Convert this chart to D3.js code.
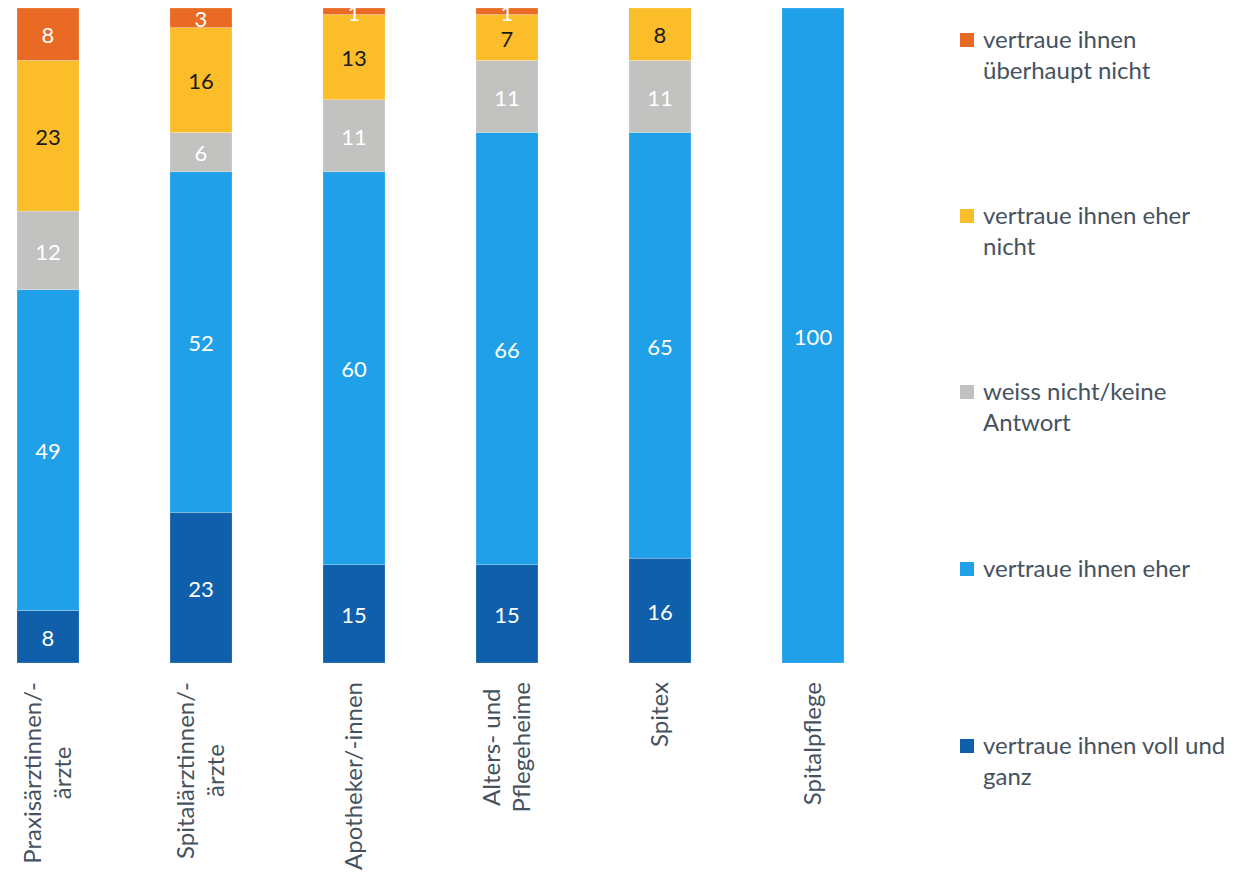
<!DOCTYPE html>
<html><head><meta charset="utf-8">
<script src="https://cdn.jsdelivr.net/npm/d3@7"></script>
<style>html,body{margin:0;padding:0;background:#fff;}svg{display:block;}</style>
</head><body>
<svg id="chart" width="1247" height="872"></svg>
<script>
const categories = ["Praxisärztinnen/-ärzte","Spitalärztinnen/-ärzte","Apotheker/-innen","Alters- und Pflegeheime","Spitex","Spitalpflege"];
const categoryLines = [["Praxisärztinnen/-","ärzte"],["Spitalärztinnen/-","ärzte"],["Apotheker/-innen"],["Alters- und","Pflegeheime"],["Spitex"],["Spitalpflege"]];
const seriesKeys = ["voll","eher","weiss","eherNicht","nicht"];
const seriesNames = ["vertraue ihnen voll und ganz","vertraue ihnen eher","weiss nicht/keine Antwort","vertraue ihnen eher nicht","vertraue ihnen überhaupt nicht"];
const legendLines = [["vertraue ihnen voll und","ganz"],["vertraue ihnen eher"],["weiss nicht/keine","Antwort"],["vertraue ihnen eher","nicht"],["vertraue ihnen","überhaupt nicht"]];
const vollValues      = [8, 23, 15, 15, 16, 0];
const eherValues      = [49, 52, 60, 66, 65, 100];
const weissValues     = [12, 6, 11, 11, 11, 0];
const eherNichtValues = [23, 16, 13, 7, 8, 0];
const nichtValues     = [8, 3, 1, 1, 0, 0];
const colors = ["#0f5fab","#1fa0e8","#c2c2c0","#fbbd29","#e86a24"];
const labelColors = ["#ffffff","#ffffff","#ffffff","#1a1a1a","#ffffff"];

const table = categories.map((c,i)=>({cat:c, voll:vollValues[i], eher:eherValues[i], weiss:weissValues[i], eherNicht:eherNichtValues[i], nicht:nichtValues[i]}));
const stack = d3.stack().keys(seriesKeys)(table);

const svg = d3.select("#chart");
const FONT = "Lato, 'Noto Sans', sans-serif";
const TXT = "#46525e";
const x = d3.scaleBand().domain(categories).range([17, 844]).paddingInner(91/153).paddingOuter(0);
const y = d3.scaleLinear().domain([0,100]).range([663, 8]);

const g = svg.append("g");
stack.forEach((layer, si) => {
  const lg = g.append("g");
  lg.selectAll("rect").data(layer).join("rect")
    .attr("x", d => x(d.data.cat))
    .attr("width", x.bandwidth())
    .attr("y", d => y(d[1]))
    .attr("height", d => Math.max(0, y(d[0]) - y(d[1])))
    .attr("fill", colors[si])
    .attr("stroke","#ffffff").attr("stroke-opacity",0.35).attr("stroke-width",0.6);
});
stack.forEach((layer, si) => {
  g.append("g").selectAll("text").data(layer.filter(d => d[1]-d[0] > 0)).join("text")
    .attr("x", d => x(d.data.cat) + x.bandwidth()/2)
    .attr("y", d => (y(d[0]) + y(d[1]))/2)
    .attr("dy","0.42em")
    .attr("text-anchor","middle")
    .attr("font-family", FONT).attr("font-size", 22)
    .attr("fill", labelColors[si])
    .text(d => d[1]-d[0]);
});

// category labels
const CFS = 24;
const measure = svg.append("text").attr("font-family",FONT).attr("font-size",CFS).attr("visibility","hidden");
const lineH = 30;
categoryLines.forEach((lines, i) => {
  const widths = lines.map(l => { measure.text(l); return measure.node().getComputedTextLength(); });
  const maxW = d3.max(widths);
  const cx = x(categories[i]) + x.bandwidth()/2;
  const startY = 682 + maxW/2;
  const n = lines.length;
  lines.forEach((l, j) => {
    const off = (j - (n-1)/2) * lineH;
    svg.append("text")
      .attr("transform", `translate(${cx + off},${startY}) rotate(-90)`)
      .attr("text-anchor","middle").attr("dy","0.35em")
      .attr("font-family",FONT).attr("font-size",CFS).attr("fill",TXT)
      .text(l);
  });
});
measure.remove();

// legend (top to bottom reversed order)
const legendY = [40, 216, 392, 569, 746];
const legOrder = [4,3,2,1,0];
legOrder.forEach((si, k) => {
  const ly = legendY[k];
  svg.append("rect").attr("x",960).attr("y",ly-7).attr("width",14).attr("height",14).attr("fill",colors[si]);
  legendLines[si].forEach((l, j) => {
    svg.append("text").attr("x",983).attr("y",ly + j*31).attr("dy","0.35em")
      .attr("font-family",FONT).attr("font-size",24).attr("fill",TXT).text(l);
  });
});
</script>
</body></html>
